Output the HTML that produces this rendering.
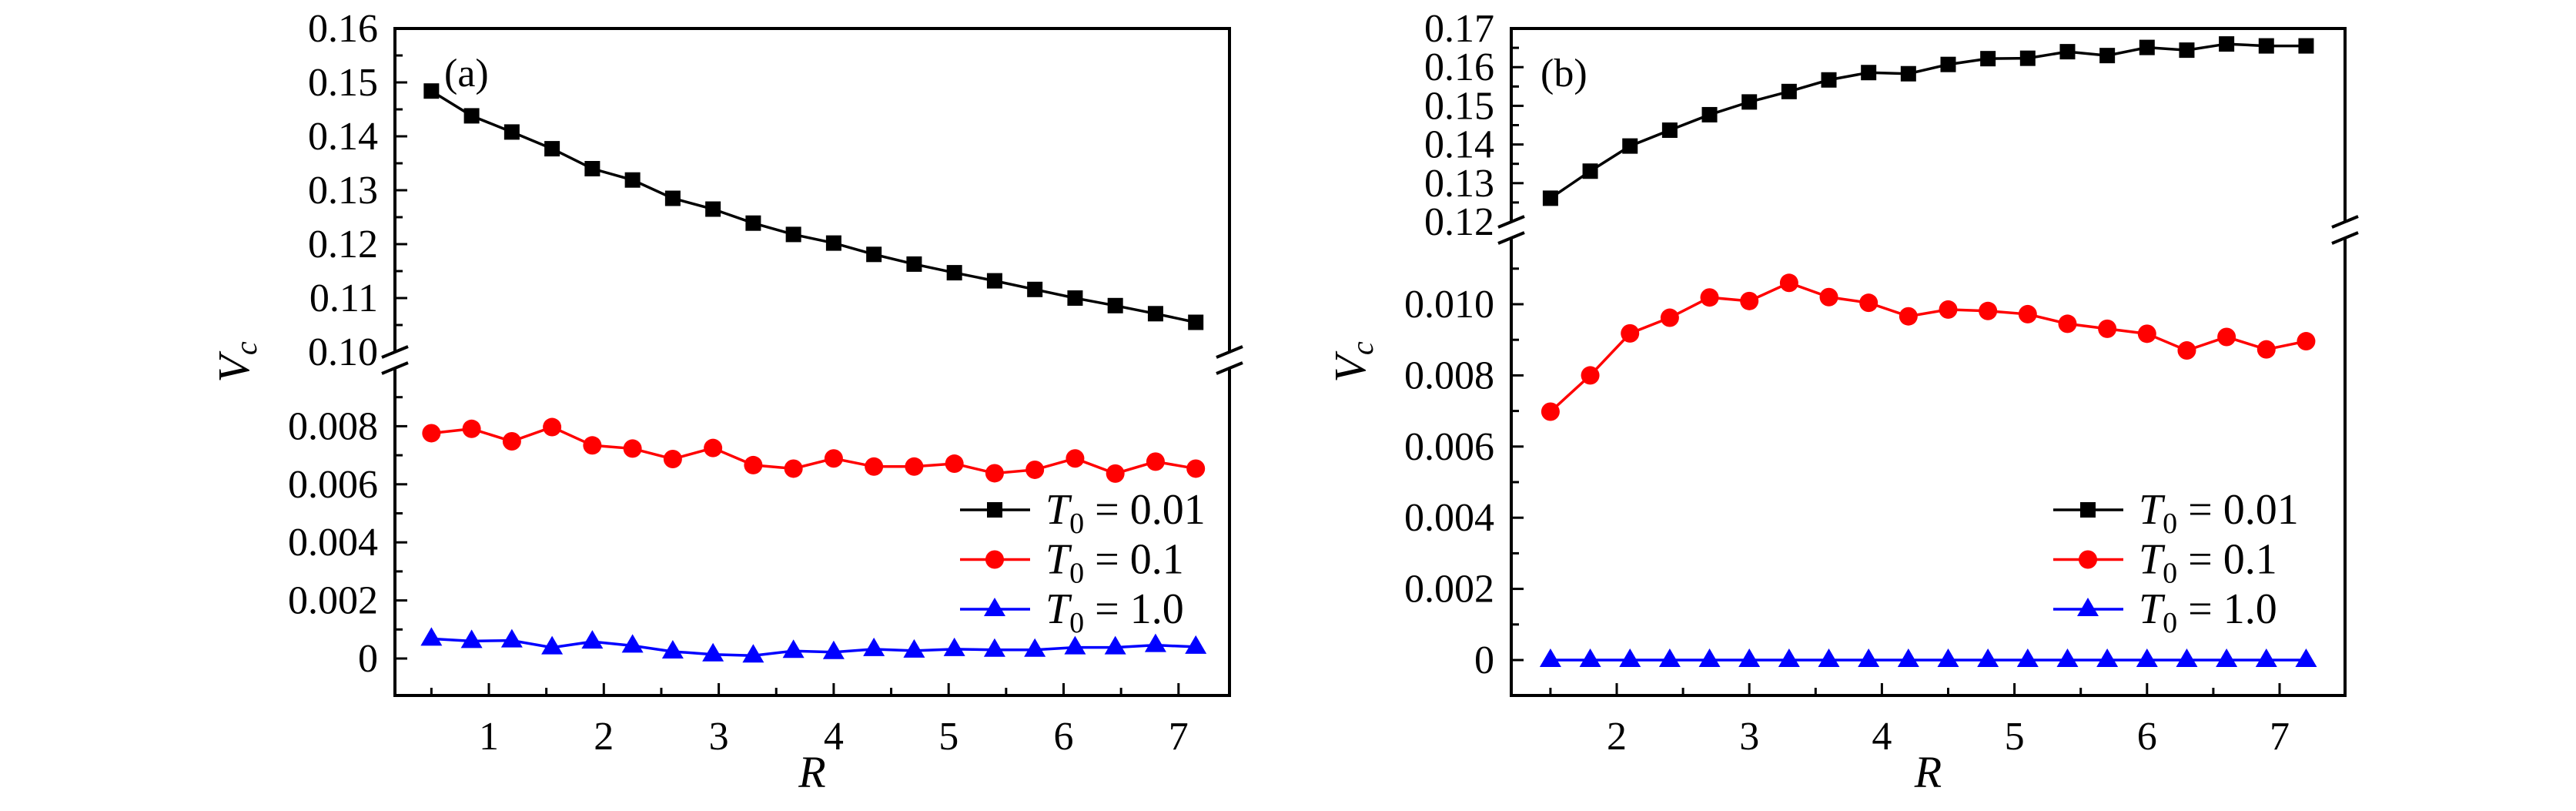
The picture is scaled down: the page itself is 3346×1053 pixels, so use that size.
<!DOCTYPE html>
<html><head><meta charset="utf-8"><style>
html,body{margin:0;padding:0;background:#fff;}
svg{display:block;}
</style></head><body>
<svg id="chart" width="3346" height="1053" viewBox="0 0 3346 1053" xmlns="http://www.w3.org/2000/svg" font-family="'Liberation Serif', 'DejaVu Serif', serif"></svg>
<script>
// ---- data panel (a) ----
const xA = [0.5,0.85,1.2,1.55,1.9,2.25,2.6,2.95,3.3,3.65,4.0,4.35,4.7,5.05,5.4,5.75,6.1,6.45,6.8,7.15];
const aT001 = [0.1484,0.1438,0.1408,0.1377,0.1340,0.1319,0.1285,0.1265,0.1239,0.1218,0.1202,0.1181,0.1163,0.1147,0.1132,0.1116,0.1100,0.1086,0.1071,0.1055];
const aT01 = [0.00776,0.00791,0.00748,0.00797,0.00734,0.00723,0.00687,0.00725,0.00666,0.00654,0.00689,0.00661,0.00661,0.00671,0.00638,0.00650,0.00689,0.00637,0.00678,0.00654];
const aT1 = [0.00068,0.0006,0.00062,0.00038,0.00058,0.00044,0.00024,0.00014,0.0001,0.00026,0.00022,0.00032,0.00027,0.00032,0.0003,0.0003,0.00038,0.00038,0.00046,0.0004];
// ---- data panel (b) ----
const xB = [1.5,1.8,2.1,2.4,2.7,3.0,3.3,3.6,3.9,4.2,4.5,4.8,5.1,5.4,5.7,6.0,6.3,6.6,6.9,7.2];
const bT001 = [0.1261,0.1331,0.1396,0.1437,0.1477,0.1510,0.1537,0.1567,0.1586,0.1583,0.1607,0.1622,0.1623,0.1640,0.1630,0.1651,0.1644,0.1660,0.1655,0.1655];
const bT01 = [0.00698,0.0080,0.00918,0.00962,0.01019,0.01009,0.0106,0.0102,0.01004,0.00966,0.00985,0.00981,0.00972,0.00945,0.00931,0.00917,0.0087,0.00908,0.00873,0.00896];
const bT1 = [0,0,0,0,0,0,0,0,0,0,0,0,0,0,0,0,0,0,0,0];
// ---- ticks ----
const xTicksA = [1,2,3,4,5,6,7];
const xTicksB = [2,3,4,5,6,7];
const upTicksA = ["0.10","0.11","0.12","0.13","0.14","0.15","0.16"];
const lowTicksA = ["0","0.002","0.004","0.006","0.008"];
const upTicksB = ["0.12","0.13","0.14","0.15","0.16","0.17"];
const lowTicksB = ["0","0.002","0.004","0.006","0.008","0.010"];
const legendLabels = ["0.01","0.1","1.0"];

const NS="http://www.w3.org/2000/svg";
const svg=document.getElementById('chart');
const FF="'Liberation Serif', 'DejaVu Serif', serif";
function mk(tag,attrs,parent){const e=document.createElementNS(NS,tag);for(const k in attrs)e.setAttribute(k,attrs[k]);if(tag==='text')e.setAttribute('font-family',FF);(parent||svg).appendChild(e);return e;}

function panel(cfg){
  const g=mk('g',{});
  
  
  const L=cfg.left,R=cfg.right,T=37,B=903;
  const sx=v=>cfg.x0px+(v-cfg.x0)*cfg.xs;
  const syU=v=>T+(cfg.uMax-v)*cfg.uScale;
  const syL=v=>cfg.zeroPx-v*cfg.lScale;
  const breakTop=syU(cfg.uMin), breakBot=breakTop+21;
  const fr=mk('path',{d:`M${L},${breakTop} L${L},${T} L${R},${T} L${R},${breakTop} M${R},${breakBot} L${R},${B} L${L},${B} L${L},${breakBot}`,fill:'none',stroke:'#000','stroke-width':4},g);
  
  
  [L,R].forEach(xx=>{
    [breakTop,breakBot].forEach(yy=>{
      const bm=mk('line',{x1:xx-17,y1:yy+7,x2:xx+17,y2:yy-7,stroke:'#000','stroke-width':4},g);
      
      
    });
  });
  cfg.xTicks.forEach(t=>{
    const X=sx(t);
    mk('line',{x1:X,y1:B,x2:X,y2:B-16,stroke:'#000','stroke-width':3},g);
    const tl=mk('text',{x:X,y:B+70,'font-size':52,'text-anchor':'middle'},g);
    tl.textContent=t;
    
    
    const m=sx(t-0.5);
    if(m>L+2) mk('line',{x1:m,y1:B,x2:m,y2:B-10,stroke:'#000','stroke-width':3},g);
  });
  const lm=sx(cfg.xTicks[cfg.xTicks.length-1]+0.5); if(lm<R-2) mk('line',{x1:lm,y1:B,x2:lm,y2:B-10,stroke:'#000','stroke-width':3},g);
  cfg.upTicks.forEach((s,i)=>{
    const v=parseFloat(s),Y=syU(v);
    if(i>0) mk('line',{x1:L,y1:Y,x2:L+16,y2:Y,stroke:'#000','stroke-width':3},g);
    const tl=mk('text',{x:L-22,y:Y+17,'font-size':52,'text-anchor':'end'},g);
    tl.textContent=s;
    
    
    const mv=v+0.005; if(mv<cfg.uMax) {const my=syU(mv); mk('line',{x1:L,y1:my,x2:L+10,y2:my,stroke:'#000','stroke-width':3},g);}
  });
  cfg.lowTicks.forEach(s=>{
    const v=parseFloat(s),Y=syL(v);
    mk('line',{x1:L,y1:Y,x2:L+16,y2:Y,stroke:'#000','stroke-width':3},g);
    const tl=mk('text',{x:L-22,y:Y+17,'font-size':52,'text-anchor':'end'},g);
    tl.textContent=s;
    
    
    const my=syL(v+0.001); if(my>breakBot+5) mk('line',{x1:L,y1:my,x2:L+10,y2:my,stroke:'#000','stroke-width':3},g);
  });
  const yt=mk('text',{x:0,y:0,'font-size':58,'font-style':'italic',transform:`translate(${L-190},${470}) rotate(-90)`,'text-anchor':'middle'},g);
  yt.innerHTML='V<tspan font-size="40" dy="10">c</tspan>';
  
  
  const xt=mk('text',{x:(L+R)/2,y:1022,'font-size':58,'font-style':'italic','text-anchor':'middle'},g);
  xt.textContent='R';
  
  
  const pl=mk('text',{x:cfg.labelX,y:112,'font-size':52},g);
  pl.textContent=cfg.label;
  
  
  const series=[
    {vals:cfg.s1,col:'#000',mark:'square',sy:syU,name:'series-t0-0-01'},
    {vals:cfg.s2,col:'#f00',mark:'circle',sy:syL,name:'series-t0-0-1'},
    {vals:cfg.s3,col:'#00f',mark:'triangle',sy:syL,name:'series-t0-1-0'}];
  function marker(mkType,X,Y,col,parent){
    let e;
    if(mkType==='square') e=mk('rect',{x:X-10,y:Y-10,width:20,height:20,fill:col},parent);
    else if(mkType==='circle') e=mk('circle',{cx:X,cy:Y,r:12,fill:col},parent);
    else e=mk('polygon',{points:`${X},${Y-15} ${X-14},${Y+9} ${X+14},${Y+9}`,fill:col},parent);
    return e;
  }
  series.forEach(s=>{
    const sg=mk('g',{},g);
    
    
    const pts=cfg.xs_data.map((x,i)=>`${sx(x)},${s.sy(s.vals[i])}`).join(' ');
    mk('polyline',{points:pts,fill:'none',stroke:s.col,'stroke-width':3.5},sg);
    cfg.xs_data.forEach((x,i)=>{
      const m=marker(s.mark,sx(x),s.sy(s.vals[i]),s.col,sg);
      
      
    });
  });
  const lg=mk('g',{},g);
  
  
  series.forEach((s,i)=>{
    const Y=662+i*64.5;
    const eg=mk('g',{},lg);
    
    
    mk('line',{x1:cfg.legX,y1:Y,x2:cfg.legX+91,y2:Y,stroke:s.col,'stroke-width':3.5},eg);
    marker(s.mark,cfg.legX+45,Y,s.col,eg);
    const t=mk('text',{x:cfg.legX+111,y:Y+18,'font-size':56},eg);
    t.innerHTML='<tspan font-style="italic">T</tspan><tspan font-size="38" dy="12">0</tspan><tspan dy="-12"> = '+legendLabels[i]+'</tspan>';
  });
}
panel({name:'panel-a',left:513,right:1597,x0:1,x0px:635,xs:149.3,xTicks:xTicksA,
  uMax:0.16,uMin:0.10,uScale:7000,zeroPx:855,lScale:37700,upTicks:upTicksA,lowTicks:lowTicksA,
  xs_data:xA,s1:aT001,s2:aT01,s3:aT1,label:'(a)',labelX:577,legX:1247});
panel({name:'panel-b',left:1963,right:3046,x0:2,x0px:2100,xs:172.2,xTicks:xTicksB,
  uMax:0.17,uMin:0.12,uScale:5020,zeroPx:857,lScale:46200,upTicks:upTicksB,lowTicks:lowTicksB,
  xs_data:xB,s1:bT001,s2:bT01,s3:bT1,label:'(b)',labelX:2001,legX:2667});
</script>
</body></html>
